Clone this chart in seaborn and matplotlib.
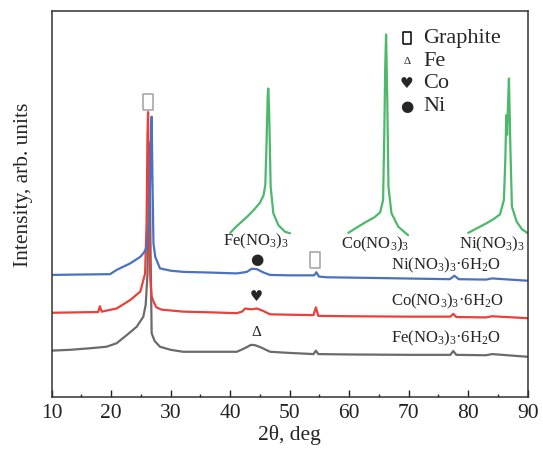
import matplotlib
matplotlib.use("Agg")
import matplotlib.pyplot as plt
import seaborn as sns
from matplotlib.ticker import MultipleLocator, NullLocator

# ---------------- data ----------------
fe_x = [10, 13, 16.4, 19.2, 20.9, 22.6, 24.3, 25.4, 25.8, 26.1, 26.3, 26.45, 26.6, 26.8, 27.3, 28.2, 30, 32.1,
        36, 41.1, 42.0, 42.8, 43.5, 44.2, 45.2, 46.7, 50, 54.0, 54.4, 54.8, 60, 70, 77.0, 77.5, 78.0, 83, 84, 90]
fe_y = [12.1, 12.3, 12.7, 13.1, 14.0, 16.1, 18.3, 20.9, 24.0, 32.0, 50.0, 66.0, 40.0, 16.6, 14.6, 13.1, 12.3, 11.8,
        11.8, 11.8, 12.4, 13.0, 13.6, 13.5, 12.9, 11.8, 11.5, 11.2, 12.1, 11.2, 11.1, 11.0, 11.0, 12.0, 11.0, 10.9, 11.2, 10.5]

co_x = [10, 14, 17.8, 18.1, 18.4, 20.9, 23.2, 24.9, 25.7, 25.95, 26.1, 26.2, 26.3, 26.45, 26.6, 26.8, 27.2, 27.6, 28.5, 32.1,
        37, 41.1, 42.0, 42.5, 43.5, 44.5, 45.5, 46.7, 50, 54.0, 54.4, 54.8, 60, 70, 77.0, 77.5, 78.0, 83, 84, 90]
co_y = [21.9, 22.0, 22.1, 23.6, 22.2, 23.0, 25.2, 27.4, 32.1, 45.0, 68.0, 73.9, 60.0, 38.0, 30.0, 26.1, 24.5, 23.3, 22.7, 22.2,
        22.0, 21.8, 22.2, 23.0, 22.8, 23.0, 22.4, 21.5, 21.4, 21.3, 23.3, 21.1, 21.0, 20.9, 20.9, 21.6, 20.8, 20.7, 21.0, 20.5]

ni_x = [10, 14, 19.8, 20.9, 23.2, 24.9, 25.5, 26.0, 26.4, 26.6, 26.8, 26.95, 27.1, 27.4, 28.2, 30, 32.1,
        37, 41.1, 42.0, 42.8, 43.6, 44.5, 45.5, 46.7, 50, 54.1, 54.5, 54.9, 56.2, 65, 76.9, 77.7, 78.4, 83, 84, 90]
ni_y = [31.7, 31.8, 31.9, 33.0, 34.7, 36.4, 37.5, 39.0, 45.0, 60.0, 72.7, 55.0, 40.0, 36.4, 33.4, 32.8, 32.5,
        32.3, 32.1, 32.3, 32.5, 33.3, 33.2, 32.4, 31.7, 31.6, 31.6, 32.4, 31.3, 31.1, 30.9, 30.6, 31.5, 30.6, 30.5, 30.8, 30.2]

# green insets (graphite reflections of the anhydrous nitrates)
fe_in_x = [40.0, 41.0, 42.0, 43.0, 44.0, 45.0, 45.6, 45.9, 46.1, 46.3, 46.4, 46.55, 46.8, 47.25, 48.1, 49.2, 50.05]
fe_in_y = [42.6, 44.2, 45.6, 47.0, 48.6, 50.4, 52.3, 55.0, 65.0, 78.0, 80.0, 74.0, 54.6, 47.7, 44.6, 42.9, 42.5]
co_in_x = [59.85, 61.4, 62.9, 64.2, 65.2, 65.7, 65.9, 66.05, 66.2, 66.4, 66.6, 67.1, 68.25, 69.9]
co_in_y = [42.6, 44.1, 45.5, 46.6, 47.9, 51.1, 68.4, 85.0, 94.0, 77.0, 54.6, 47.7, 44.2, 42.0]
ni_in_x = [80.0, 81.6, 83.1, 84.3, 85.35, 86.0, 86.25, 86.4, 86.55, 86.7, 86.85, 87.1, 87.35, 88.15, 89.0, 90.0]
ni_in_y = [42.6, 43.9, 45.1, 46.2, 47.4, 51.1, 62.0, 73.1, 68.0, 76.0, 82.6, 64.1, 49.4, 45.5, 43.6, 42.5]

series_labels = ["Fe(NO$_3$)$_3$·6H$_2$O", "Co(NO$_3$)$_3$·6H$_2$O", "Ni(NO$_3$)$_3$·6H$_2$O"]
series_label_y = [15.3, 24.8, 34.3]
inset_labels = ["Fe(NO$_3$)$_3$", "Co(NO$_3$)$_3$", "Ni(NO$_3$)$_3$"]
inset_label_x = [44.25, 64.3, 83.95]
inset_label_y = [40.3, 39.5, 39.5]
phase_names = ["Graphite", "Fe", "Co", "Ni"]
phase_symbols = ["□", "Δ", "♥", "●"]
graphite_mark_x = [54.25, 26.2]
graphite_mark_y = [35.6, 76.5]
x_ticks = [10, 20, 30, 40, 50, 60, 70, 80, 90]

# ---------------- style ----------------
sns.set_theme(style="ticks")
plt.rcParams["font.family"] = ["Liberation Serif", "DejaVu Serif", "DejaVu Sans"]
plt.rcParams["mathtext.fontset"] = "custom"
plt.rcParams["mathtext.rm"] = "Liberation Serif"
plt.rcParams["mathtext.it"] = "Liberation Serif:italic"

GRAY = "#6b6b6b"
RED = "#e8403a"
BLUE = "#4a72c0"
GREEN = "#4cb96a"

RECT = [(-0.7, -1), (0.7, -1), (0.7, 1), (-0.7, 1), (-0.7, -1)]

fig = plt.figure(figsize=(5.43, 4.58), dpi=100)
ax = fig.add_axes([0.0952, 0.1325, 0.8766, 0.8428])

for xs, ys, c in [(fe_x, fe_y, GRAY), (co_x, co_y, RED), (ni_x, ni_y, BLUE)]:
    sns.lineplot(x=xs, y=ys, color=c, lw=1.6, ax=ax, estimator=None, sort=False)
for xs, ys in [(fe_in_x, fe_in_y), (co_in_x, co_in_y), (ni_in_x, ni_in_y)]:
    sns.lineplot(x=xs, y=ys, color=GREEN, lw=1.6, ax=ax, estimator=None, sort=False)

ax.set_xlim(10, 90)
ax.set_ylim(0, 100)
ax.xaxis.set_major_locator(MultipleLocator(10))
ax.xaxis.set_minor_locator(MultipleLocator(5))
ax.yaxis.set_major_locator(NullLocator())
ax.set_xticks(x_ticks)
ax.tick_params(axis="x", which="major", direction="in", length=5, width=1, labelsize=15.5, pad=5, colors="#222222")
ax.tick_params(axis="x", which="minor", direction="in", length=2.5, width=1, colors="#222222")
for s in ax.spines.values():
    s.set_linewidth(1.1)
    s.set_color("#333333")

ax.set_xlabel("2θ, deg", fontsize=15.5, labelpad=1)
ax.set_ylabel("Intensity, arb. units", fontsize=15.5)
ax.yaxis.set_label_coords(-0.04, 0.55)

# curve labels
for lab, y in zip(series_labels, series_label_y):
    ax.text(67.0, y, lab, fontsize=12, ha="left", va="center")
for lab, x, y in zip(inset_labels, inset_label_x, inset_label_y):
    ax.text(x, y, lab, fontsize=12, ha="center", va="center")

# phase markers on curves
ax.text(44.45, 35.6, "●", fontsize=11, ha="center", va="center", family=["DejaVu Sans"])
ax.text(44.45, 26.1, "♥", fontsize=10.5, ha="center", va="center", family=["DejaVu Sans"])
ax.text(44.45, 16.9, "Δ", fontsize=11, ha="center", va="center")
ax.plot(graphite_mark_x, graphite_mark_y, ls="none", marker=RECT, ms=11,
        mfc="none", mec="#a8a8a8", mew=1.2)

# symbol legend
leg_y = [93.0, 86.9, 81.2, 75.4]
sym_sizes = [0, 8, 11, 11]
for name, sym, y, fs in zip(phase_names, phase_symbols, leg_y, sym_sizes):
    if sym == "□":
        ax.plot([69.7], [y], ls="none", marker=RECT, ms=8, mfc="none", mec="black", mew=1.1)
    else:
        fam = ["Liberation Serif"] if sym == "Δ" else ["DejaVu Sans"]
        ax.text(69.7, y, sym, fontsize=fs, ha="center", va="center", family=fam)
    ax.text(72.45, y, name, fontsize=16, ha="left", va="center")

fig.savefig("out.png", dpi=100)
